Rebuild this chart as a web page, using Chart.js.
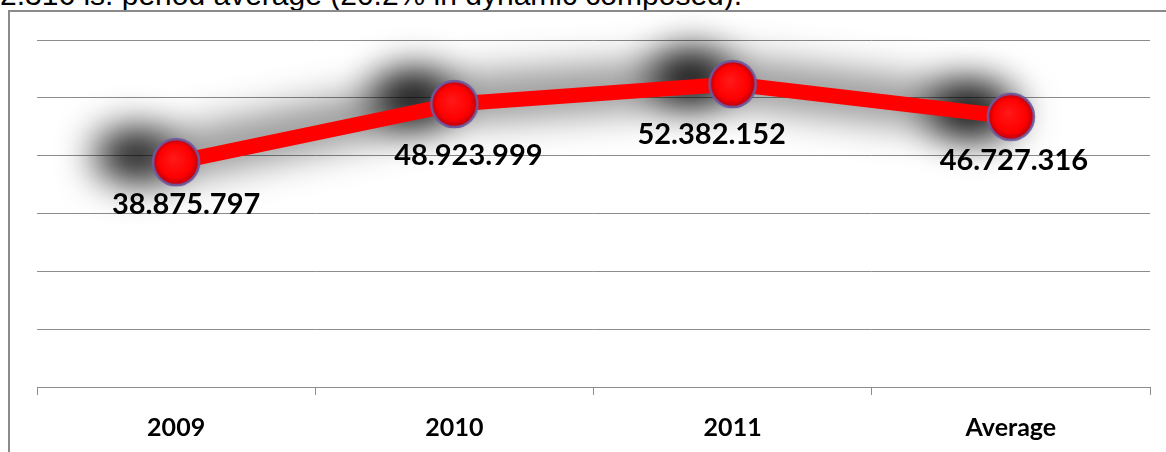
<!DOCTYPE html>
<html>
<head>
<meta charset="utf-8">
<script src="https://cdn.jsdelivr.net/npm/chart.js@4.4.1/dist/chart.umd.min.js"></script>
<style>
  html, body { margin: 0; padding: 0; background: #fff; overflow: hidden; }
  #wrap { position: relative; width: 1166px; height: 452px; }
  #caption {
    position: absolute; left: 0; top: -20px; white-space: nowrap;
    font: 30px "Liberation Sans", Arial, sans-serif; line-height: 30px; color: #000;
  }
  #frame {
    position: absolute; left: 8px; top: 10px; width: 1200px; height: 460px;
    border-top: 2px solid #8a8a8a; border-left: 2px solid #8a8a8a;
  }
  #chart { position: absolute; left: 0; top: 0; }
</style>
</head>
<body>
<div id="wrap">
  <div id="caption">2.316 is. period average (20.2% in dynamic composed).</div>
  <div id="frame"></div>
  <canvas id="chart" width="1166" height="452"></canvas>
</div>
<script>
var years = ['2009', '2010', '2011', 'Average'];
var amounts = [38875797, 48923999, 52382152, 46727316];
var yTicks = [0, 10000000, 20000000, 30000000, 40000000, 50000000, 60000000];

// where each value label sits relative to its marker
var labelShift = [[10, 42], [14, 52], [-21, 51], [3, 44]];

function dotted(n) {
  return String(n).replace(/\B(?=(\d{3})+(?!\d))/g, '.');
}

// red ball marker with a darker rim and a purple outline
function makeBall(r) {
  var size = r * 2 + 4;
  var c = document.createElement('canvas');
  c.width = size; c.height = size;
  var g = c.getContext('2d');
  var cx = size / 2, cy = size / 2;
  var grad = g.createRadialGradient(cx - 3, cy - 4, 0, cx, cy, r);
  grad.addColorStop(0, '#ff1a1a');
  grad.addColorStop(0.72, '#ff0000');
  grad.addColorStop(1, '#b80010');
  g.beginPath();
  g.arc(cx, cy, r, 0, Math.PI * 2);
  g.fillStyle = grad;
  g.fill();
  g.lineWidth = 2.5;
  g.strokeStyle = '#6f5a9c';
  g.stroke();
  return c;
}

var ball = makeBall(23);

// soft dark halo around the line, darkest just left of each marker
var glowShadow = {
  id: 'glowShadow',
  beforeDatasetDraw: function(chart) {
    var ctx = chart.ctx;
    var pts = chart.getDatasetMeta(0).data;
    ctx.save();
    ctx.filter = 'blur(20px)';
    ctx.strokeStyle = 'rgba(0,0,0,0.5)';
    ctx.lineWidth = 40;
    ctx.lineJoin = 'round';
    ctx.lineCap = 'round';
    ctx.beginPath();
    pts.forEach(function(p, i) {
      if (i === 0) ctx.moveTo(p.x - 10, p.y - 4);
      else ctx.lineTo(p.x - 10, p.y - 4);
    });
    ctx.stroke();
    ctx.filter = 'blur(19px)';
    ctx.fillStyle = 'rgba(0,0,0,0.92)';
    pts.forEach(function(p) {
      ctx.beginPath();
      ctx.ellipse(p.x - 42, p.y - 7, 40, 27, 0, 0, Math.PI * 2);
      ctx.fill();
    });
    ctx.restore();
  }
};

var valueLabels = {
  id: 'valueLabels',
  afterDatasetsDraw: function(chart) {
    var ctx = chart.ctx;
    var meta = chart.getDatasetMeta(0);
    ctx.save();
    ctx.font = 'bold 29px Lato';
    ctx.fillStyle = '#000';
    ctx.textAlign = 'center';
    ctx.textBaseline = 'middle';
    meta.data.forEach(function(pt, i) {
      ctx.fillText(dotted(amounts[i]), pt.x + labelShift[i][0], pt.y + labelShift[i][1]);
    });
    ctx.restore();
  }
};

var ctx = document.getElementById('chart');
new Chart(ctx, {
  type: 'line',
  data: {
    labels: years,
    datasets: [{
      data: amounts,
      borderColor: '#ff0000',
      borderWidth: 15,
      borderJoinStyle: 'round',
      borderCapStyle: 'round',
      pointStyle: ball,
      pointRadius: 24,
      clip: false
    }]
  },
  options: {
    responsive: false,
    animation: false,
    events: [],
    layout: { autoPadding: false, padding: { left: 37, right: 16, top: 40, bottom: 0 } },
    plugins: { legend: { display: false }, tooltip: { enabled: false } },
    scales: {
      x: {
        offset: true,
        grid: { offset: true, drawOnChartArea: false, color: '#8c8c8c', tickLength: 8 },
        border: { color: '#8c8c8c' },
        ticks: { color: '#000', font: { family: 'Lato', size: 25, weight: 'bold' }, padding: 18 },
        afterFit: function(scale) { scale.height = 65; }
      },
      y: {
        min: 0,
        max: 60000000,
        afterBuildTicks: function(scale) {
          scale.ticks = yTicks.map(function(v) { return { value: v }; });
        },
        grid: { color: '#8c8c8c', drawTicks: false },
        border: { display: false },
        ticks: { display: false },
        afterFit: function(scale) { scale.width = 0; }
      }
    }
  },
  plugins: [glowShadow, valueLabels]
});
</script>
</body>
</html>
